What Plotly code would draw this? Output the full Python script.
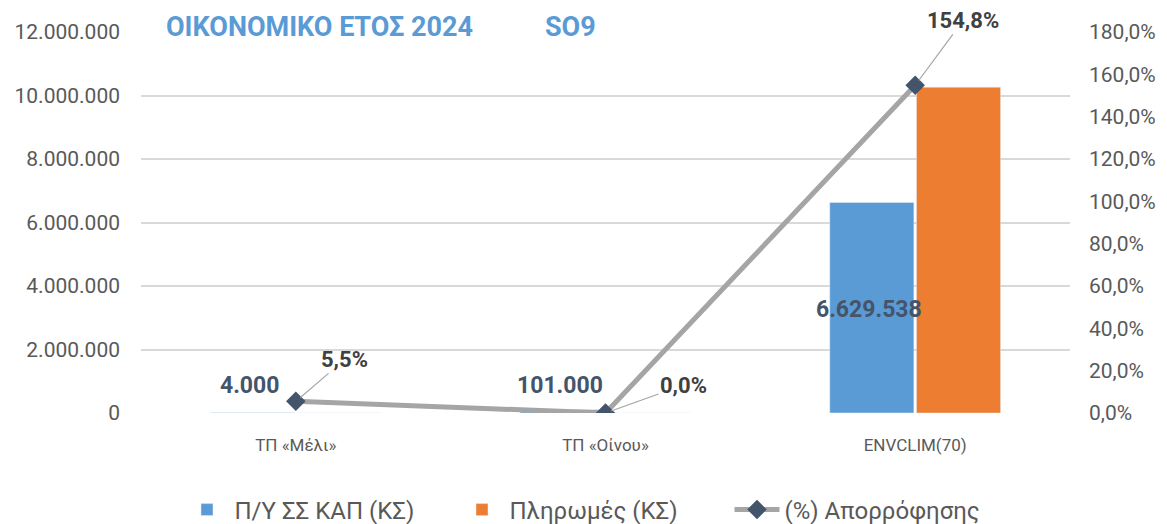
import plotly.graph_objects as go

categories = ["ΤΠ «Μέλι»", "ΤΠ «Οίνου»", "ENVCLIM(70)"]
budget = [4000, 101000, 6629538]
payments = [220, 0, 10262525]
absorption = [0.055, 0.0, 1.548]

left_ticks = [0, 2000000, 4000000, 6000000, 8000000, 10000000, 12000000]
right_ticks = [0, 0.2, 0.4, 0.6, 0.8, 1.0, 1.2, 1.4, 1.6, 1.8]

FONT = "Roboto, sans-serif"
GREY = "#595959"
SLATE = "#44546A"

# the page body has an 8px margin, so the figure is drawn 8px in from the corner
W, H = 1159, 516
ML, MR, MT, MB = 133, 97, 24, 111
PLOT_W = W - ML - MR


def dotted(v):
    return f"{v:,}".replace(",", ".")


def pct(v):
    return f"{v * 100:.1f}%".replace(".", ",")


fig = go.Figure()

fig.add_trace(
    go.Bar(
        x=categories,
        y=budget,
        name="Π/Υ ΣΣ ΚΑΠ (ΚΣ)",
        marker=dict(color="#5B9BD5"),
    )
)

fig.add_trace(
    go.Bar(
        x=categories,
        y=payments,
        name="Πληρωμές (ΚΣ)",
        marker=dict(color="#ED7D31"),
    )
)

fig.add_trace(
    go.Scatter(
        x=categories,
        y=absorption,
        name="(%) Απορρόφησης",
        yaxis="y2",
        mode="lines+markers",
        line=dict(color="#A5A5A5", width=5),
        marker=dict(symbol="diamond", size=15, color=SLATE),
    )
)

# bar value labels (budget series)
label_y = [880000, 880000, 3250000]
for cat, v, ly in zip(categories, budget, label_y):
    fig.add_annotation(
        x=cat, y=ly, xref="x", yref="y",
        text=f"<b>{dotted(v)}</b>",
        showarrow=False, xshift=-46,
        font=dict(family=FONT, size=23, color=SLATE),
    )

# absorption labels with leader lines
offsets = [(49, -42), (78, -28), (48, -65)]
for cat, v, (ax, ay) in zip(categories, absorption, offsets):
    fig.add_annotation(
        x=cat, y=v, xref="x", yref="y2",
        text=f"<b>{pct(v)}</b>",
        showarrow=True, arrowhead=0, arrowwidth=1.2, arrowcolor="#A5A5A5",
        ax=ax, ay=ay, standoff=6,
        font=dict(family=FONT, size=22, color="#404040"),
    )

# title pieces, white boxes break the top gridline like the original
fig.add_annotation(
    x=(311 - ML) / PLOT_W, y=1.0, xref="paper", yref="paper",
    xanchor="center", yanchor="middle",
    text="<b>ΟΙΚΟΝΟΜΙΚΟ ΕΤΟΣ 2024</b>", showarrow=False,
    font=dict(family=FONT, size=27, color="#5B9BD5"),
    bgcolor="white", borderpad=6, yshift=5,
)
fig.add_annotation(
    x=(562 - ML) / PLOT_W, y=1.0, xref="paper", yref="paper",
    xanchor="center", yanchor="middle",
    text="<b>SO9</b>", showarrow=False,
    font=dict(family=FONT, size=27, color="#5B9BD5"),
    bgcolor="white", borderpad=6, yshift=5,
)

fig.update_layout(
    width=W,
    height=H,
    autosize=False,
    separators=",.",
    plot_bgcolor="white",
    paper_bgcolor="white",
    margin=dict(l=ML, r=MR, t=MT, b=MB),
    barmode="group",
    bargap=0.44,
    bargroupgap=0.03,
    font=dict(family=FONT, color=GREY),
    xaxis=dict(
        tickfont=dict(size=17, color=GREY),
        showgrid=False,
        showline=False,
        ticks="",
        ticklabelstandoff=20,
        automargin=False,
    ),
    yaxis=dict(
        range=[0, 12000000],
        tickvals=left_ticks,
        ticktext=[dotted(t) for t in left_ticks],
        tickfont=dict(size=21, color=GREY),
        gridcolor="#D9D9D9",
        gridwidth=1.5,
        zeroline=False,
        ticklabelstandoff=20,
        automargin=False,
    ),
    yaxis2=dict(
        range=[0, 1.8],
        tickvals=right_ticks,
        ticktext=[pct(t) for t in right_ticks],
        tickfont=dict(size=21, color=GREY),
        overlaying="y",
        side="right",
        showgrid=False,
        zeroline=False,
        ticklabelstandoff=18,
        automargin=False,
    ),
    legend=dict(
        orientation="h",
        xref="container",
        yref="container",
        x=584 / W,
        xanchor="center",
        y=14 / H,
        yanchor="middle",
        font=dict(size=24, color=GREY),
        itemwidth=45,
        entrywidth=215,
        traceorder="normal",
    ),
)

fig.write_html("out.html")
